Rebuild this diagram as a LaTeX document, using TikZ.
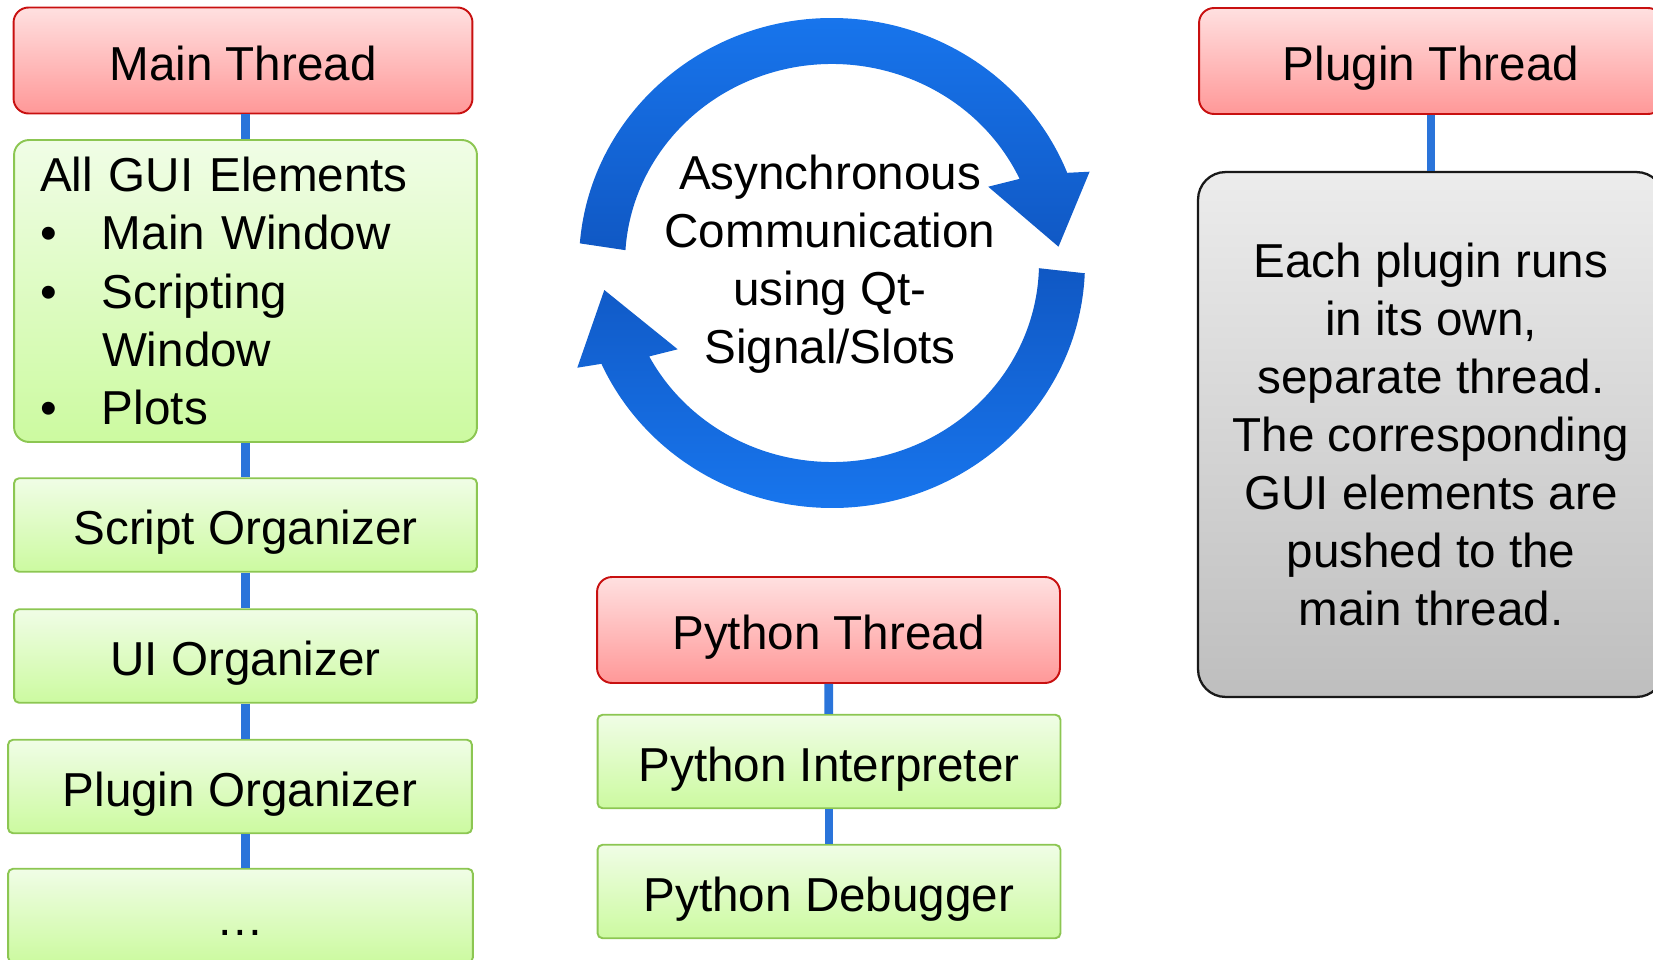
\documentclass[tikz,border=0pt]{standalone}
\usepackage{fontspec}
\setmainfont{Liberation Sans}
\usepackage{xcolor}
\usetikzlibrary{calc}

\definecolor{redline}{RGB}{200,16,16}
\definecolor{redtop}{RGB}{255,224,224}
\definecolor{redbot}{RGB}{255,152,152}
\definecolor{greenline}{RGB}{140,198,82}
\definecolor{greentop}{RGB}{240,253,230}
\definecolor{greenbot}{RGB}{204,250,160}
\definecolor{graytop}{RGB}{236,236,236}
\definecolor{graybot}{RGB}{190,190,190}
\definecolor{linkblue}{RGB}{42,116,218}
\definecolor{arrowlight}{RGB}{24,118,238}
\definecolor{arrowdark}{RGB}{16,88,196}

\newcommand{\boxfont}{\fontsize{27.1pt}{33.1pt}\selectfont}
\newcommand{\gbul}{\makebox[1.24cm][l]{\textbullet}}

\begin{document}
\begin{tikzpicture}[x=0.02cm, y=0.02cm, font=\boxfont,
    thread/.style={draw=redline, line width=1.1pt, rounded corners=0.3cm, top color=redtop, bottom color=redbot,
        minimum width=9.26cm, minimum height=2.12cm, text height=0.79cm, text depth=0pt, inner sep=0pt},
    greenbox/.style={draw=greenline, line width=1.1pt, top color=greentop, bottom color=greenbot, inner sep=0pt},
    part/.style={greenbox, rounded corners=0.1cm, minimum width=9.26cm, minimum height=1.87cm,
        text height=0.79cm, text depth=0pt},
    notebox/.style={draw=black!90, line width=1.3pt, rounded corners=0.55cm, top color=graytop, bottom color=graybot,
        minimum width=9.32cm, minimum height=10.5cm, align=center, inner sep=0pt},
    link/.style={draw=linkblue, line width=5pt},
    ]
    \clip (0,0) rectangle (1653,-960);

    % main thread column
    \node[thread, minimum width=9.18cm] (main) at (243,-60.5) {Main Thread};
    \node[greenbox, rounded corners=0.3cm, minimum width=9.26cm, minimum height=6.04cm,
        text width=8.22cm, align=left] (gui) at (245.5,-291)
        {All GUI Elements\\ \gbul Main Window\\ \gbul Scripting\\ \hspace*{1.24cm}Window\\ \gbul Plots};
    \node[part] (script) at (245.5,-525) {Script Organizer};
    \node[part] (ui) at (245.5,-656) {UI Organizer};
    \node[part, minimum width=9.28cm] (plugorg) at (240,-786.5) {Plugin Organizer};
    \node[part, minimum width=9.3cm] (more) at (240.5,-915.5) {…};

    \draw[link] (main.south -| gui) -- (gui.north);
    \draw[link] (gui) -- (script);
    \draw[link] (script) -- (ui);
    \draw[link] (ui.south) -- (ui.south |- plugorg.north);
    \draw[link] (plugorg.south -| ui) -- (more.north -| ui);

    % circular arrows
    \coordinate (c) at (832,-263);
    \shade[top color=arrowlight, bottom color=arrowdark]
        ($(c)+(175.4:253 and 245)$) arc[start angle=175.4, end angle=21.6, x radius=253, y radius=245]
        -- (1089.6,-171.7) -- (1058.5,-246.7) -- (988.2,-186.7)
        -- ($(c)+(25:207 and 199)$) arc[start angle=25, end angle=176.3, x radius=207, y radius=199] -- cycle;
    \shade[top color=arrowdark, bottom color=arrowlight]
        ($(c)+(-2.4:253 and 245)$) arc[start angle=-2.4, end angle=-155.7, x radius=253, y radius=245]
        -- (577.3,-367.7) -- (604.3,-290) -- (677.7,-349.3)
        -- ($(c)+(-152:207 and 199)$) arc[start angle=-152, end angle=-1.5, x radius=207, y radius=199] -- cycle;
    \node[align=center] (async) at (830,-264) {Asynchronous\\ Communication\\ using Qt-\\ Signal/Slots};

    % python thread column
    \node[thread] (pythread) at (828.5,-630) {Python Thread};
    \node[part] (pyint) at (829,-761.5) {Python Interpreter};
    \node[part] (pydbg) at (829,-891.5) {Python Debugger};

    \draw[link] (pythread) -- (pyint);
    \draw[link] (pyint) -- (pydbg);

    % plugin thread column
    \node[thread, minimum width=9.28cm] (plugthread) at (1431,-61) {Plugin Thread};
    \node[notebox] (plugnote) at (1431,-434.5) {Each plugin runs\\ in its own,\\ separate thread.\\ The corresponding\\ GUI elements are\\ pushed to the\\ main thread.};

    \draw[link] (plugthread) -- (plugnote);
\end{tikzpicture}
\end{document}
